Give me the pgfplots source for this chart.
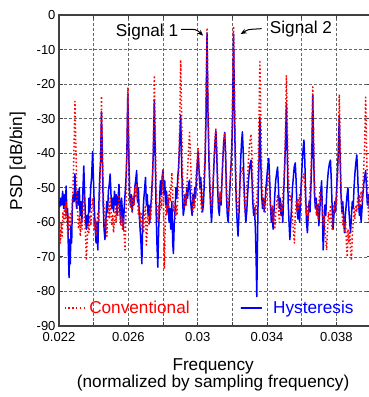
\documentclass[border=0pt]{standalone}
\usepackage{fontspec}
\setmainfont{Liberation Sans}
\usepackage{pgfplots}
\pgfplotsset{compat=1.18}
\usepackage{pgfplotstable}
\usetikzlibrary{arrows.meta}

\pgfplotstableread{
f p
0.02200 -54
0.02205 -55.5
0.02210 -53
0.02215 -55
0.02221 -51
0.02227 -56
0.02233 -52
0.02237 -57
0.02241 -49.5
0.02246 -58
0.02250 -56
0.02254 -68
0.02258 -76
0.02262 -65
0.02265 -72
0.02269 -61
0.02273 -66
0.02277 -55
0.02282 -52
0.02287 -54
0.02292 -46
0.02297 -53
0.02302 -56
0.02307 -51
0.02312 -55
0.02317 -50
0.02322 -58
0.02327 -54
0.02332 -60
0.02337 -52
0.02343 -43.7
0.02348 -52
0.02353 -59
0.02358 -62
0.02363 -58
0.02368 -61
0.02373 -53
0.02378 -57
0.02383 -50
0.02388 -47
0.02394 -39.5
0.02399 -48
0.02404 -56
0.02409 -62
0.02414 -66
0.02419 -60
0.02424 -68
0.02429 -57
0.02434 -48
0.02440 -42
0.02445 -28
0.02450 -40
0.02455 -55
0.02460 -62
0.02465 -65
0.02470 -60
0.02475 -54
0.02480 -57
0.02485 -51
0.02490 -49
0.02495 -46
0.02500 -52
0.02505 -56
0.02510 -53
0.02515 -57
0.02520 -51
0.02525 -55
0.02530 -52
0.02535 -58
0.02540 -54
0.02546 -49
0.02551 -56
0.02556 -60
0.02561 -53
0.02566 -57
0.02571 -62
0.02576 -56
0.02581 -52
0.02586 -48
0.02591 -41
0.02597 -23
0.02602 -38
0.02607 -51
0.02612 -55
0.02617 -52
0.02622 -57
0.02627 -53
0.02632 -55
0.02637 -50
0.02642 -48
0.02648 -45
0.02653 -54
0.02658 -50
0.02663 -58
0.02668 -62
0.02673 -66
0.02678 -72
0.02683 -60
0.02688 -54
0.02693 -51
0.02699 -47
0.02704 -55
0.02709 -52
0.02714 -58
0.02719 -55
0.02724 -60
0.02729 -56
0.02734 -52
0.02739 -47
0.02744 -40
0.02750 -24.5
0.02755 -40
0.02760 -56
0.02765 -66
0.02770 -73
0.02775 -62
0.02780 -54
0.02785 -48
0.02790 -52
0.02795 -47
0.02800 -44.8
0.02805 -52
0.02810 -48
0.02815 -55
0.02820 -51
0.02825 -57
0.02830 -53
0.02835 -60
0.02840 -56
0.02845 -62
0.02851 -54
0.02856 -66
0.02860 -69
0.02865 -60
0.02870 -56
0.02875 -50
0.02880 -53
0.02885 -47
0.02890 -44
0.02895 -38
0.02902 -29
0.02907 -42
0.02912 -52
0.02917 -58
0.02922 -56
0.02927 -52
0.02932 -55
0.02937 -50
0.02942 -53
0.02947 -49
0.02953 -47.8
0.02958 -53
0.02963 -56
0.02968 -58
0.02973 -52
0.02978 -55
0.02983 -50
0.02988 -53
0.02993 -47
0.02998 -43
0.03003 -39.5
0.03008 -45
0.03013 -50
0.03018 -47
0.03023 -53
0.03028 -57
0.03033 -55
0.03038 -49
0.03043 -42
0.03048 -30
0.03054 -5.2
0.03060 -30
0.03065 -42
0.03070 -50
0.03075 -56
0.03080 -60
0.03085 -55
0.03090 -48
0.03095 -42
0.03100 -37
0.03105 -33.5
0.03110 -40
0.03115 -50
0.03120 -56
0.03125 -58
0.03130 -52
0.03135 -55
0.03140 -48
0.03145 -42
0.03150 -37
0.03156 -34
0.03161 -40
0.03166 -52
0.03171 -58
0.03176 -60
0.03181 -55
0.03186 -50
0.03191 -45
0.03196 -40
0.03201 -30
0.03207 -5.5
0.03213 -30
0.03218 -45
0.03223 -55
0.03228 -60
0.03233 -64
0.03238 -58
0.03243 -50
0.03248 -42
0.03253 -37
0.03258 -33.8
0.03263 -40
0.03268 -50
0.03273 -56
0.03278 -60
0.03283 -57
0.03288 -52
0.03293 -48
0.03298 -45
0.03303 -43
0.03308 -42
0.03313 -47
0.03318 -54
0.03323 -58
0.03328 -56
0.03333 -62
0.03337 -70
0.03341 -81.5
0.03345 -66
0.03349 -52
0.03354 -42
0.03359 -29.5
0.03364 -42
0.03369 -52
0.03374 -56
0.03379 -53
0.03384 -57
0.03389 -54
0.03394 -50
0.03399 -47
0.03404 -44
0.03410 -41.5
0.03415 -47
0.03420 -55
0.03425 -60
0.03430 -56
0.03435 -62
0.03440 -57
0.03445 -52
0.03450 -48
0.03455 -46
0.03461 -44
0.03466 -50
0.03471 -56
0.03476 -53
0.03481 -58
0.03486 -55
0.03491 -60
0.03496 -52
0.03501 -45
0.03506 -38
0.03512 -25.6
0.03517 -40
0.03522 -54
0.03527 -60
0.03532 -65
0.03537 -60
0.03542 -55
0.03547 -50
0.03552 -47
0.03557 -44
0.03563 -42.8
0.03568 -48
0.03573 -56
0.03578 -59
0.03583 -55
0.03588 -60
0.03593 -54
0.03598 -48
0.03603 -43
0.03608 -39
0.03613 -36.2
0.03618 -42
0.03623 -52
0.03628 -60
0.03633 -63
0.03638 -58
0.03643 -54
0.03648 -57
0.03653 -50
0.03658 -42
0.03664 -23.2
0.03669 -40
0.03674 -52
0.03679 -56
0.03684 -53
0.03689 -58
0.03694 -55
0.03699 -61
0.03704 -57
0.03709 -52
0.03715 -48
0.03720 -58
0.03724 -68
0.03729 -62
0.03734 -55
0.03739 -58
0.03744 -52
0.03749 -48
0.03754 -45
0.03760 -43
0.03766 -42
0.03771 -48
0.03776 -56
0.03781 -62
0.03786 -58
0.03791 -54
0.03796 -57
0.03801 -51
0.03806 -46
0.03811 -40
0.03817 -29.2
0.03822 -42
0.03827 -52
0.03832 -57
0.03837 -54
0.03842 -59
0.03847 -63
0.03852 -58
0.03857 -55
0.03862 -52
0.03867 -50
0.03872 -56
0.03877 -60
0.03882 -63
0.03887 -58
0.03892 -54
0.03897 -56
0.03902 -50
0.03907 -46
0.03912 -43
0.03918 -40.5
0.03923 -46
0.03928 -54
0.03933 -58
0.03938 -55
0.03943 -60
0.03948 -56
0.03953 -52
0.03958 -49
0.03963 -47
0.03969 -45
0.03974 -50
0.03979 -55
0.03985 -52
0.03990 -56
0.03995 -53
0.04000 -55
}\hyst

\pgfplotstableread{
f p
0.02200 -69
0.02204 -62
0.02208 -66
0.02213 -60
0.02218 -64
0.02223 -57
0.02228 -60
0.02233 -55
0.02238 -59
0.02241 -54
0.02246 -60
0.02251 -64
0.02256 -58
0.02261 -62
0.02266 -57
0.02271 -61
0.02276 -55
0.02281 -50
0.02286 -40
0.02292 -25
0.02298 -40
0.02303 -52
0.02308 -58
0.02313 -62
0.02318 -58
0.02323 -64
0.02328 -59
0.02333 -62
0.02338 -56
0.02343 -52
0.02348 -58
0.02353 -64
0.02358 -71
0.02363 -65
0.02368 -60
0.02373 -63
0.02378 -58
0.02383 -61
0.02388 -56
0.02394 -53
0.02399 -58
0.02404 -62
0.02409 -59
0.02414 -64
0.02419 -60
0.02424 -57
0.02429 -60
0.02434 -54
0.02439 -45
0.02445 -23.5
0.02451 -40
0.02456 -52
0.02461 -57
0.02466 -62
0.02471 -59
0.02476 -64
0.02481 -58
0.02486 -55
0.02491 -59
0.02495 -53
0.02500 -57
0.02505 -61
0.02510 -58
0.02515 -63
0.02520 -59
0.02525 -56
0.02530 -60
0.02535 -55
0.02540 -58
0.02546 -52
0.02551 -57
0.02556 -61
0.02561 -58
0.02566 -62
0.02571 -59
0.02576 -64
0.02581 -68
0.02586 -58
0.02591 -42
0.02597 -21
0.02603 -38
0.02608 -52
0.02613 -56
0.02618 -53
0.02623 -57
0.02628 -52
0.02633 -55
0.02638 -50
0.02643 -53
0.02648 -49
0.02653 -54
0.02658 -58
0.02663 -55
0.02668 -60
0.02673 -57
0.02678 -62
0.02683 -59
0.02688 -63
0.02693 -58
0.02699 -55
0.02704 -67
0.02709 -62
0.02714 -58
0.02719 -61
0.02724 -56
0.02729 -59
0.02734 -55
0.02739 -50
0.02744 -38
0.02750 -17.5
0.02756 -36
0.02761 -50
0.02766 -56
0.02771 -60
0.02776 -55
0.02781 -58
0.02786 -53
0.02791 -56
0.02796 -50
0.02800 -45
0.02804 -60
0.02808 -73.5
0.02812 -62
0.02817 -55
0.02822 -58
0.02827 -52
0.02832 -56
0.02837 -51
0.02842 -54
0.02847 -49
0.02851 -45.6
0.02856 -52
0.02861 -57
0.02866 -54
0.02871 -59
0.02876 -55
0.02881 -58
0.02886 -52
0.02891 -45
0.02896 -32
0.02902 -13
0.02908 -32
0.02913 -46
0.02918 -52
0.02923 -56
0.02928 -52
0.02933 -55
0.02938 -49
0.02943 -44
0.02948 -38
0.02953 -34
0.02958 -40
0.02963 -48
0.02968 -53
0.02973 -57
0.02978 -53
0.02983 -56
0.02988 -50
0.02993 -45
0.02998 -41
0.03003 -38.5
0.03008 -44
0.03013 -50
0.03018 -54
0.03023 -57
0.03028 -53
0.03033 -49
0.03038 -45
0.03043 -38
0.03048 -24
0.03054 -3.7
0.03060 -24
0.03065 -38
0.03070 -47
0.03075 -53
0.03080 -56
0.03085 -52
0.03090 -47
0.03095 -41
0.03100 -36
0.03105 -33
0.03110 -38
0.03115 -46
0.03120 -52
0.03125 -55
0.03130 -51
0.03135 -54
0.03140 -48
0.03145 -42
0.03150 -37
0.03156 -34
0.03161 -40
0.03166 -48
0.03171 -54
0.03176 -57
0.03181 -53
0.03186 -49
0.03191 -44
0.03196 -38
0.03201 -24
0.03207 -3.2
0.03213 -24
0.03218 -40
0.03223 -50
0.03228 -55
0.03233 -58
0.03238 -54
0.03243 -50
0.03248 -47
0.03253 -45
0.03258 -44
0.03263 -48
0.03268 -53
0.03273 -57
0.03278 -54
0.03283 -50
0.03288 -46
0.03293 -42
0.03298 -38
0.03303 -36
0.03308 -34.5
0.03313 -40
0.03318 -48
0.03323 -54
0.03328 -58
0.03333 -55
0.03338 -58
0.03343 -52
0.03348 -45
0.03353 -32
0.03359 -13.5
0.03365 -32
0.03370 -46
0.03375 -52
0.03380 -56
0.03385 -53
0.03390 -57
0.03395 -52
0.03400 -50
0.03405 -48
0.03410 -46
0.03415 -51
0.03420 -55
0.03425 -58
0.03430 -55
0.03435 -60
0.03440 -57
0.03445 -62
0.03450 -58
0.03455 -55
0.03461 -52
0.03466 -56
0.03471 -60
0.03476 -57
0.03481 -54
0.03486 -57
0.03491 -52
0.03496 -49
0.03501 -44
0.03506 -34
0.03512 -17.4
0.03518 -34
0.03523 -46
0.03528 -50
0.03533 -54
0.03538 -52
0.03543 -56
0.03548 -60
0.03553 -63
0.03558 -66
0.03563 -58
0.03568 -54
0.03573 -57
0.03578 -53
0.03583 -56
0.03588 -52
0.03593 -55
0.03598 -50
0.03603 -48
0.03608 -47
0.03613 -46
0.03618 -50
0.03623 -55
0.03628 -58
0.03633 -55
0.03638 -59
0.03643 -55
0.03648 -51
0.03653 -46
0.03658 -38
0.03664 -20.8
0.03670 -38
0.03675 -50
0.03680 -55
0.03685 -58
0.03690 -55
0.03695 -59
0.03700 -54
0.03705 -51
0.03710 -54
0.03715 -53
0.03720 -57
0.03725 -61
0.03730 -58
0.03735 -63
0.03740 -66
0.03744 -68
0.03749 -62
0.03754 -57
0.03760 -60
0.03766 -55
0.03771 -59
0.03776 -62
0.03781 -58
0.03786 -55
0.03791 -57
0.03796 -53
0.03801 -55
0.03806 -50
0.03811 -40
0.03817 -23
0.03823 -40
0.03828 -52
0.03833 -57
0.03838 -61
0.03843 -58
0.03848 -63
0.03853 -60
0.03858 -66
0.03863 -70
0.03867 -62
0.03872 -66
0.03877 -63
0.03882 -68
0.03887 -71
0.03892 -64
0.03897 -60
0.03902 -56
0.03907 -59
0.03912 -55
0.03918 -57
0.03923 -53
0.03928 -56
0.03933 -52
0.03938 -55
0.03943 -51
0.03948 -54
0.03953 -50
0.03958 -44
0.03963 -38
0.03969 -23.8
0.03975 -40
0.03980 -52
0.03985 -57
0.03990 -60
0.03995 -56
0.04000 -58
}\conv

\tikzset{
  hyststy/.style={blue, line width=1.5pt, line join=round, line cap=round},
  convsty/.style={red, line width=1.5pt, line join=round, dash pattern=on 1.5pt off 2.3pt},
}

\begin{document}
\begin{tikzpicture}
\begin{axis}[
  scale only axis, width=312pt, height=311pt,
  xmin=0.022, xmax=0.040, ymin=-90, ymax=0,
  xtick={0.022,0.024,0.026,0.028,0.030,0.032,0.034,0.036,0.038,0.040},
  xticklabels={0.022,{},0.026,{},0.03,{},0.034,{},0.038,{}},
  ytick={-90,-80,-70,-60,-50,-40,-30,-20,-10,0},
  scaled x ticks=false,
  /pgf/number format/assume math mode=true,
  tick label style={font=\fontsize{13}{15}\selectfont},
  xticklabel style={yshift=-2.5pt},
  grid=major,
  grid style={black!60, line width=0.6pt, dash pattern=on 3pt off 2pt},
  axis line style={black!75, line width=1.2pt},
  tick style={black!75, line width=0.8pt},
  major tick length=4pt,
  xlabel={Frequency\\(normalized by sampling frequency)},
  xlabel style={at={(axis description cs:0.494,-0.106)}, anchor=north, inner sep=0pt, align=center, font=\fontsize{17.2}{17}\selectfont},
  ylabel={PSD [dB/bin]},
  ylabel style={at={(axis description cs:-0.106,0.53)}, anchor=south, inner sep=0pt, font=\fontsize{17.2}{20}\selectfont},
  legend columns=2,
  legend style={at={(axis description cs:0.005,0.058)}, anchor=west, draw=none, fill=none, font=\fontsize{17.2}{20}\selectfont, /tikz/every even column/.append style={column sep=49pt}},
  legend image code/.code={\draw[#1] (0pt,0pt) -- (15pt,0pt); \path (0pt,0pt) -- (20pt,0pt);},
]
\addlegendimage{convsty}
\addlegendentry{\hspace{2pt}\textcolor{red}{Conventional}}
\addlegendimage{hyststy}
\addlegendentry{\hspace{9pt}\textcolor{blue}{Hysteresis}}
\addplot[hyststy, forget plot] table[x=f, y=p] {\hyst};
\addplot[convsty, forget plot] table[x=f, y=p] {\conv};

\node[anchor=base, font=\fontsize{17.2}{20}\selectfont] at (axis cs:0.02708,-6.3) {Signal 1};
\node[anchor=base, font=\fontsize{17.2}{20}\selectfont] at (axis cs:0.03596,-5.5) {Signal 2};
\draw[line width=1pt, -{Stealth[length=6pt,width=5pt]}] (axis cs:0.02904,-4.14) -- (axis cs:0.02967,-4.14) to[out=0,in=135] (axis cs:0.03031,-6.0);
\draw[line width=1pt, -{Stealth[length=6pt,width=5pt]}] (axis cs:0.03369,-3.96) -- (axis cs:0.03312,-4.14) to[out=180,in=30] (axis cs:0.03248,-5.5);

\coordinate (BL) at (rel axis cs:-0.1891,-0.2283);
\coordinate (TR) at (rel axis cs:0.9904,1.0482);
\end{axis}
\pgfresetboundingbox
\path[use as bounding box] (BL) rectangle (TR);
\end{tikzpicture}
\end{document}
